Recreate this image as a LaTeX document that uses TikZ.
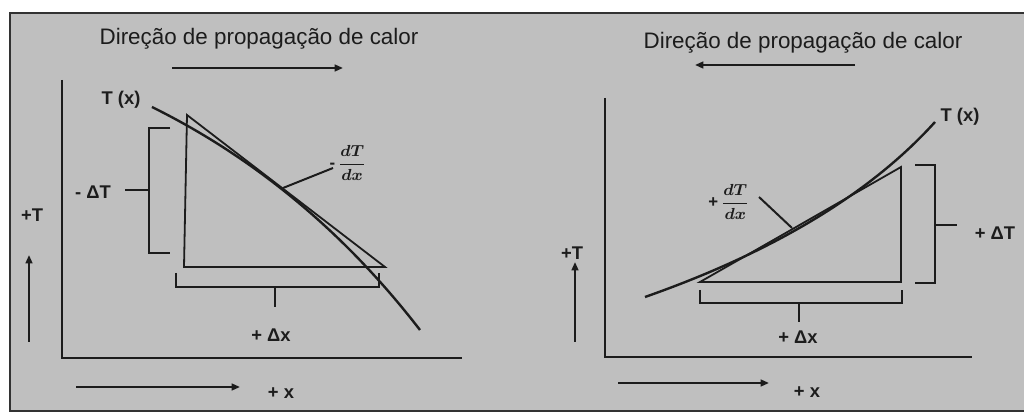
\documentclass[tikz,border=0pt]{standalone}
\usepackage{amsmath}
\usepackage{fontspec}
\setmainfont{Liberation Sans}
\usetikzlibrary{arrows.meta}
\definecolor{panel}{RGB}{191,191,191}
\definecolor{ink}{RGB}{28,28,28}
\definecolor{edge}{RGB}{50,50,50}
\tikzset{
  >={Triangle[length=4.2pt,width=3.4pt]},
  ttl/.style={font=\fontsize{11.2}{13}\selectfont,text=ink,inner sep=0pt},
  lbl/.style={font=\fontsize{9.2}{11}\selectfont\bfseries,text=ink,inner sep=0pt},
  frac/.style={font=\fontsize{8.4}{10}\selectfont\boldmath,text=ink,inner sep=0pt},
  ax/.style={draw=ink,line width=1.3pt},
  crv/.style={draw=ink,line width=1.2pt},
  tri/.style={draw=ink,line width=0.9pt,line join=miter},
  brk/.style={draw=ink,line width=1pt},
  frm/.style={draw=edge,fill=panel,line width=1.1pt},
  every picture/.style={line width=1pt},
}
\begin{document}
\begin{tikzpicture}[x=0.5pt,y=-0.5pt]
\clip (0,0) rectangle (1024,416);
\fill[white] (0,0) rectangle (1024,416);
\draw[frm] (10,13) rectangle (1040,411);
%% left: T decreasing
\node[ttl] (titL) at (259,39) {Direção de propagação de calor};
\coordinate (hL1) at (172,68);
\coordinate (hL2) at (343,68);
\draw[->,ink] (hL1) -- (hL2);
\coordinate (yL) at (62,80);
\coordinate (oL) at (62,358);
\coordinate (xL) at (462,358);
\draw[ax] (yL) -- (oL) -- (xL);
\node[lbl] (TxL) at (121,100) {T (x)};
\coordinate (cL1) at (152,107);
\coordinate (cL2) at (420,330);
\draw[crv] (cL1) .. controls (257,159) and (346,234) .. (cL2);
\coordinate (tL1) at (187,115);
\coordinate (tL2) at (184,267);
\coordinate (tL3) at (385,267);
\draw[tri] (tL1) -- (tL2) -- (tL3) -- cycle;
\node[frac] (dTL) at (348,163) {\textbf{-}\,$\dfrac{dT}{dx}$};
\coordinate (gL) at (283,188);
\coordinate (kL) at (333,168);
\draw[brk] (gL) -- (kL);
% brackets
\draw[brk] (170,128) -| (149,253) -- (170,253);
\node[lbl] (DTL) at (93,192) {- ΔT};
\coordinate (mL1) at (149,190);
\coordinate (mL2) at (125,190);
\draw[brk] (mL1) -- (mL2);
\draw[brk] (176,273) |- (379,287) -- (379,273);
\node[lbl] (DxL) at (271,335) {+ Δx};
\coordinate (nL1) at (275,287);
\coordinate (nL2) at (275,307);
\draw[brk] (nL1) -- (nL2);
% axis hints
\node[lbl] (pTL) at (32,215) {+T};
\coordinate (aL1) at (29,342);
\coordinate (aL2) at (29,255);
\draw[->,ink] (aL1) -- (aL2);
\coordinate (bL1) at (76,387);
\coordinate (bL2) at (240,387);
\draw[->,ink] (bL1) -- (bL2);
\node[lbl] (pxL) at (281,393) {+ x};
%% right: T increasing
\node[ttl] (titR) at (803,43) {Direção de propagação de calor};
\coordinate (hR1) at (855,65);
\coordinate (hR2) at (695,65);
\draw[->,ink] (hR1) -- (hR2);
\coordinate (yR) at (605,98);
\coordinate (oR) at (605,357);
\coordinate (xR) at (972,357);
\draw[ax] (yR) -- (oR) -- (xR);
\node[lbl] (TxR) at (960,117) {T (x)};
\coordinate (cR1) at (645,297);
\coordinate (cR2) at (935,122);
\draw[crv] (cR1) .. controls (773,252) and (870,194) .. (cR2);
\coordinate (tR1) at (700,282);
\coordinate (tR2) at (901,282);
\coordinate (tR3) at (901,167);
\draw[tri] (tR1) -- (tR2) -- (tR3) -- cycle;
\node[frac] (dTR) at (729,202) {\textbf{+}\,$\dfrac{dT}{dx}$};
\coordinate (gR) at (792,228);
\coordinate (kR) at (759,197);
\draw[brk] (gR) -- (kR);
% brackets
\draw[brk] (915,165) -| (935,283) -- (915,283);
\node[lbl] (DTR) at (995,233) {+ ΔT};
\coordinate (mR1) at (935,225);
\coordinate (mR2) at (957,225);
\draw[brk] (mR1) -- (mR2);
\draw[brk] (700,290) |- (902,303) -- (902,290);
\node[lbl] (DxR) at (798,337) {+ Δx};
\coordinate (nR1) at (799,303);
\coordinate (nR2) at (799,322);
\draw[brk] (nR1) -- (nR2);
% axis hints
\node[lbl] (pTR) at (572,253) {+T};
\coordinate (aR1) at (575,342);
\coordinate (aR2) at (575,262);
\draw[->,ink] (aR1) -- (aR2);
\coordinate (bR1) at (618,383);
\coordinate (bR2) at (769,383);
\draw[->,ink] (bR1) -- (bR2);
\node[lbl] (pxR) at (807,392) {+ x};
\end{tikzpicture}
\end{document}
